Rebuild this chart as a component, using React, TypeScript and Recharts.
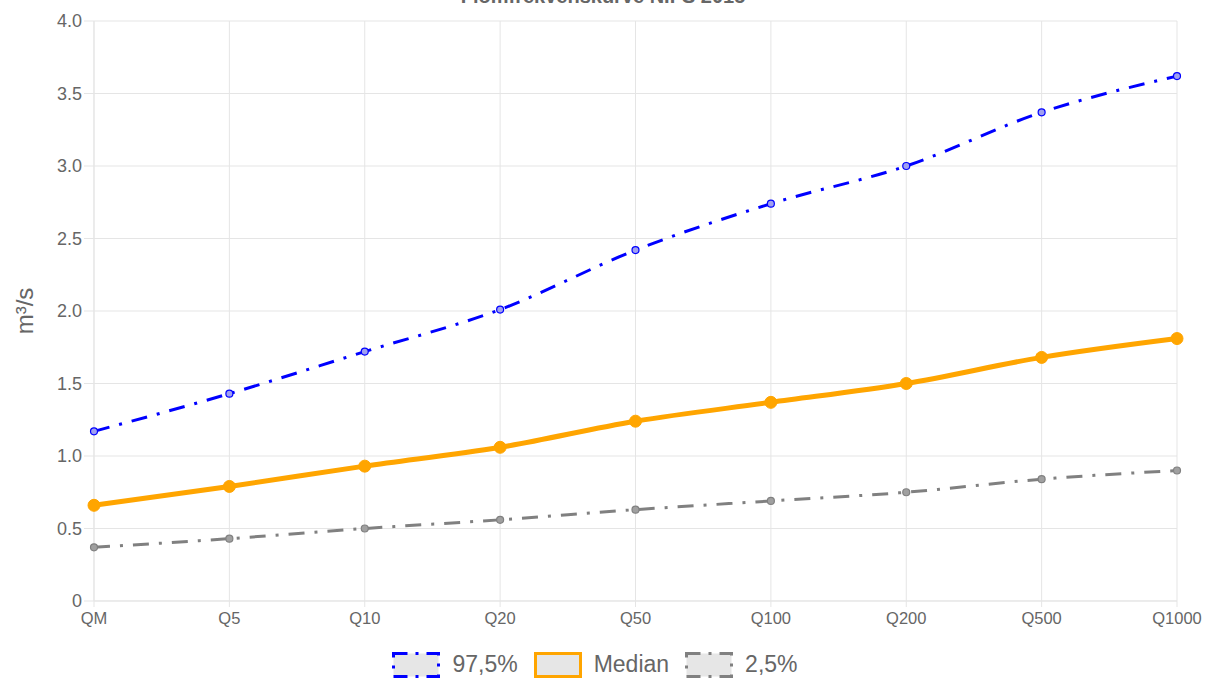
import { LineChart, Line, XAxis, YAxis, CartesianGrid, Label } from 'recharts';

const categories = ['QM', 'Q5', 'Q10', 'Q20', 'Q50', 'Q100', 'Q200', 'Q500', 'Q1000'];
const upper = [1.17, 1.43, 1.72, 2.01, 2.42, 2.74, 3.0, 3.37, 3.62];
const median = [0.66, 0.79, 0.93, 1.06, 1.24, 1.37, 1.5, 1.68, 1.81];
const lower = [0.37, 0.43, 0.5, 0.56, 0.63, 0.69, 0.75, 0.84, 0.9];
const yTicks = [0, 0.5, 1, 1.5, 2, 2.5, 3, 3.5, 4];

const data = categories.map((c, i) => ({ name: c, upper: upper[i], median: median[i], lower: lower[i] }));

const font = '"Liberation Sans", Arial, Helvetica, sans-serif';
const grey = '#666';

const legendItems = [
  { label: '97,5%', color: 'blue', dash: '14,8,3,8' },
  { label: 'Median', color: 'orange', dash: '' },
  { label: '2,5%', color: 'grey', dash: '14,8,3,8' },
];

const fmt = (v: number) => (v === 0 ? '0' : v.toFixed(1));

export default function App() {
  return (
    <div style={{ position: 'absolute', left: 0, top: 0, width: 1206, height: 678, background: '#fff', fontFamily: font, overflow: 'hidden' }}>
      <div style={{ position: 'absolute', top: -15, left: 0, width: 1206, textAlign: 'center', fontWeight: 'bold', fontSize: 20, color: grey }}>
        Flomfrekvenskurve NIFS 2015
      </div>
      <LineChart width={1206} height={678} data={data} margin={{ top: 21, right: 29, bottom: 0, left: 0 }}>
        <CartesianGrid stroke="#e5e5e5" />
        <XAxis
          dataKey="name"
          height={77}
          stroke="#e5e5e5"
          tickSize={6}
          tickMargin={5}
          tick={{ fill: grey, fontSize: 16.5, fontFamily: font }}
          interval={0}
        />
        <YAxis
          width={94}
          domain={[0, 4]}
          ticks={yTicks}
          tickFormatter={fmt}
          stroke="#e5e5e5"
          tickSize={10}
          tickMargin={2}
          tick={{ fill: grey, fontSize: 18, fontFamily: font }}
        >
          <Label value="m³/s" angle={-90} position="insideLeft" offset={24} style={{ fill: grey, fontSize: 24, fontFamily: font, textAnchor: 'middle' }} />
        </YAxis>
        <Line
          type="monotone"
          dataKey="upper"
          stroke="blue"
          strokeWidth={3}
          strokeDasharray="16,10,3,10"
          dot={{ r: 3.5, fill: '#a0a0f0', stroke: 'blue', strokeWidth: 1.2, strokeDasharray: '' }}
          isAnimationActive={false}
        />
        <Line
          type="monotone"
          dataKey="median"
          stroke="orange"
          strokeWidth={5}
          dot={{ r: 6, fill: 'orange', stroke: 'orange', strokeWidth: 1 }}
          isAnimationActive={false}
        />
        <Line
          type="monotone"
          dataKey="lower"
          stroke="grey"
          strokeWidth={3}
          strokeDasharray="16,10,3,10"
          dot={{ r: 3.5, fill: '#a0a0a0', stroke: 'grey', strokeWidth: 1.2, strokeDasharray: '' }}
          isAnimationActive={false}
        />
      </LineChart>
      <div style={{ position: 'absolute', top: 651, left: 0, width: 1206, display: 'flex', justifyContent: 'center', alignItems: 'center', fontSize: 23, color: grey }}>
        {legendItems.map((it) => (
          <div key={it.label} style={{ display: 'flex', alignItems: 'center', marginRight: 16 }}>
            <svg width={48} height={26} style={{ marginRight: 12 }}>
              <rect x={1.5} y={1.5} width={45} height={23} fill="#e6e6e6" stroke={it.color} strokeWidth={3} strokeDasharray={it.dash} />
            </svg>
            <span>{it.label}</span>
          </div>
        ))}
      </div>
    </div>
  );
}
